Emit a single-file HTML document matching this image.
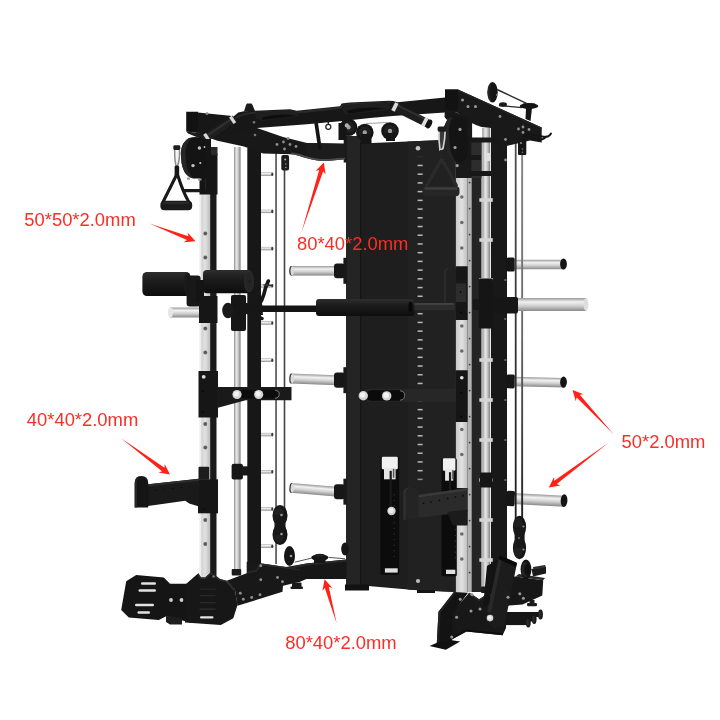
<!DOCTYPE html>
<html lang="en"><head><meta charset="utf-8"><title>Smith machine tube specification</title>
<style>
html,body{margin:0;padding:0;background:#fff}
body{width:720px;height:720px;overflow:hidden;position:relative;font-family:"Liberation Sans",sans-serif}
svg{position:absolute;left:0;top:0;display:block;filter:blur(0.55px)}
.lbl{font-family:"Liberation Sans",sans-serif;font-size:18.4px;fill:#fa2e25}
</style></head><body>
<svg width="720" height="720" viewBox="0 0 720 720">
<!-- defs -->
<g id="defs">
<defs>
<linearGradient id="chromeV" x1="0" x2="1" y1="0" y2="0">
 <stop offset="0" stop-color="#8f8f8f"/><stop offset=".35" stop-color="#e9e9e9"/><stop offset=".6" stop-color="#cfcfcf"/><stop offset="1" stop-color="#7d7d7d"/>
</linearGradient>
<linearGradient id="chromeH" x1="0" x2="0" y1="0" y2="1">
 <stop offset="0" stop-color="#9a9a9a"/><stop offset=".3" stop-color="#f2f2f2"/><stop offset=".6" stop-color="#d0d0d0"/><stop offset="1" stop-color="#8a8a8a"/>
</linearGradient>
<linearGradient id="silverRail" x1="0" x2="1" y1="0" y2="0">
 <stop offset="0" stop-color="#c9c9c9"/><stop offset=".5" stop-color="#e2e2e2"/><stop offset="1" stop-color="#bdbdbd"/>
</linearGradient>
<linearGradient id="padH" x1="0" x2="0" y1="0" y2="1">
 <stop offset="0" stop-color="#2e2e2e"/><stop offset=".35" stop-color="#1d1d1d"/><stop offset="1" stop-color="#0d0d0d"/>
</linearGradient>
<linearGradient id="cab1" x1="0" x2="0" y1="0" y2="1"><stop offset="0" stop-color="#505050"/><stop offset="1" stop-color="#1c1c1c"/></linearGradient>
<linearGradient id="cab2" x1="0" x2="0" y1="0" y2="1"><stop offset="0" stop-color="#858585"/><stop offset=".5" stop-color="#6a6a6a"/><stop offset="1" stop-color="#1c1c1c"/></linearGradient>
<filter id="soft" x="-5%" y="-5%" width="110%" height="110%"><feGaussianBlur stdDeviation="0.45"/></filter>
</defs>
</g>
<!-- back_right -->
<g id="back_right">
<rect x="491" y="128" width="16" height="462" fill="#181818" />
<rect x="513" y="259.75" width="51" height="9.5" fill="url(#chromeH)" />
<rect x="506.7" y="257.55" width="8" height="13.9" rx="1.5" fill="#161616" />
<ellipse cx="563.5" cy="264" rx="3.4" ry="5.55" fill="#141414" />
<g transform="rotate(1.3 512 381.5)">
<rect x="513" y="376.75" width="51" height="9.5" fill="url(#chromeH)" />
<rect x="506.7" y="374.55" width="8" height="13.9" rx="1.5" fill="#161616" />
<ellipse cx="563.5" cy="381" rx="3.4" ry="5.55" fill="#141414" />
</g>
<g transform="rotate(2.8 512 498.5)">
<rect x="512" y="493.1" width="52.6" height="11" fill="url(#chromeH)" />
<rect x="506.7" y="490.9" width="8" height="15.4" rx="1.5" fill="#161616" />
<ellipse cx="564.1" cy="498.1" rx="3.4" ry="6.3" fill="#141414" />
</g>
<rect x="514.8" y="141" width="1.8" height="381" fill="url(#cab1)" />
<rect x="521.2" y="150" width="1.9" height="372" fill="url(#cab2)" />
<circle cx="505.3" cy="280" r="1.1" fill="#6f6f6f" />
<circle cx="505.3" cy="319" r="1.1" fill="#6f6f6f" />
<circle cx="505.3" cy="360" r="1.1" fill="#6f6f6f" />
<circle cx="505.3" cy="400" r="1.1" fill="#6f6f6f" />
<circle cx="505.3" cy="440" r="1.1" fill="#6f6f6f" />
<circle cx="505.3" cy="480" r="1.1" fill="#6f6f6f" />
<polygon points="445,89.5 458,89.5 541.7,127.5 541.7,142.5 530,140.5 506.5,146 506.5,150 491,150 491,128 481.5,127 476,125 467.5,121 458,113 445,110" fill="#191919" />
<polygon points="458,89.5 541.7,127.5 541.7,129 458,91" fill="#242424" />
<ellipse cx="492.5" cy="92.3" rx="5.2" ry="10.3" fill="#141414" />
<ellipse cx="491.2" cy="92.3" rx="3.4" ry="8.6" fill="#262626" />
<ellipse cx="493.2" cy="92.3" rx="3.6" ry="8.8" fill="#141414" />
<circle cx="497" cy="95" r="1" fill="#8a8a8a" />
<line x1="497" y1="89.5" x2="526.5" y2="103.3" stroke="#2a2a2a" stroke-width="1.4" />
<line x1="499" y1="105.5" x2="522" y2="107.6" stroke="#2a2a2a" stroke-width="1.3" />
<ellipse cx="503" cy="104.5" rx="4" ry="2.2" fill="#1a1a1a" />
<ellipse cx="529" cy="106" rx="9.3" ry="3" fill="#141414" />
<rect x="523" y="103.5" width="12" height="2.5" fill="#141414" />
<polygon points="526,108 532,108 530.5,121 525.5,119" fill="#161616" />
<path d="M525,133.5 L545,137 Q549,137 551,133.6 M523,136 L540,139.5 Q544,139.7 546,136.5" fill="none" stroke="#141414" stroke-width="2" stroke-linecap="round"/>
<rect x="518" y="138" width="8.3" height="17" rx="1" fill="#161616" />
<circle cx="521" cy="143" r="1.1" fill="#8a8a8a" />
<circle cx="522.5" cy="149" r="0.8" fill="#777" />
<circle cx="522.5" cy="152.3" r="0.8" fill="#777" />
<circle cx="500" cy="116.5" r="1.4" fill="#8e8e8e" />
<circle cx="523" cy="127" r="1.4" fill="#8e8e8e" />
<circle cx="518.5" cy="129" r="1.4" fill="#8e8e8e" />
<circle cx="523" cy="132.5" r="1.4" fill="#8e8e8e" />
<circle cx="529" cy="129.5" r="1.4" fill="#8e8e8e" />
<circle cx="505.5" cy="139.5" r="1.4" fill="#8e8e8e" />
<circle cx="505.5" cy="160" r="1.4" fill="#8e8e8e" />
</g>
<!-- panel -->
<g id="panel">
<polygon points="360,143.5 455.5,139.5 455.5,592 420,590.5 368,586 360,586" fill="#1e1e1e" />
<polygon points="407.5,141.5 455.5,139.5 455.5,592 407.5,589.5" fill="#212121" />
<rect x="346" y="136" width="15" height="452" fill="#242424" />
<rect x="343.7" y="136.5" width="3" height="26" fill="#191919" />
<rect x="360.2" y="142" width="0.9" height="444" fill="#121212" />
<rect x="345" y="584.5" width="24" height="6" fill="#121212" />
<rect x="417" y="590" width="18" height="3" fill="#141414" />
<circle cx="418" cy="148.3" r="2.3" fill="#c4c4c4" />
<circle cx="418" cy="581" r="2.1" fill="#bdbdbd" />
<rect x="417.6" y="156" width="5" height="1.5" fill="#2a2a2a" />
<rect x="417.6" y="164.72" width="5" height="1.5" fill="#b9b9b9" />
<rect x="417.6" y="173.44" width="5" height="1.5" fill="#b9b9b9" />
<rect x="417.6" y="182.16" width="5" height="1.5" fill="#b9b9b9" />
<rect x="417.6" y="190.88" width="5" height="1.5" fill="#b9b9b9" />
<rect x="417.6" y="199.6" width="5" height="1.5" fill="#b9b9b9" />
<rect x="417.6" y="208.32" width="5" height="1.5" fill="#b9b9b9" />
<rect x="417.6" y="217.04" width="5" height="1.5" fill="#b9b9b9" />
<rect x="417.6" y="225.76" width="5" height="1.5" fill="#b9b9b9" />
<rect x="417.6" y="234.48" width="5" height="1.5" fill="#b9b9b9" />
<rect x="417.6" y="243.2" width="5" height="1.5" fill="#b9b9b9" />
<rect x="417.6" y="251.92" width="5" height="1.5" fill="#b9b9b9" />
<rect x="417.6" y="260.64" width="5" height="1.5" fill="#b9b9b9" />
<rect x="417.6" y="269.36" width="5" height="1.5" fill="#b9b9b9" />
<rect x="417.6" y="278.08" width="5" height="1.5" fill="#b9b9b9" />
<rect x="417.6" y="286.8" width="5" height="1.5" fill="#b9b9b9" />
<rect x="417.6" y="295.52" width="5" height="1.5" fill="#b9b9b9" />
<rect x="417.6" y="304.24" width="5" height="1.5" fill="#b9b9b9" />
<rect x="417.6" y="312.96" width="5" height="1.5" fill="#b9b9b9" />
<rect x="417.6" y="321.68" width="5" height="1.5" fill="#b9b9b9" />
<rect x="417.6" y="330.4" width="5" height="1.5" fill="#b9b9b9" />
<rect x="417.6" y="339.12" width="5" height="1.5" fill="#b9b9b9" />
<rect x="417.6" y="347.84" width="5" height="1.5" fill="#b9b9b9" />
<rect x="417.6" y="356.56" width="5" height="1.5" fill="#b9b9b9" />
<rect x="417.6" y="365.28" width="5" height="1.5" fill="#b9b9b9" />
<rect x="417.6" y="374" width="5" height="1.5" fill="#b9b9b9" />
<rect x="417.6" y="382.72" width="5" height="1.5" fill="#b9b9b9" />
<rect x="417.6" y="391.44" width="5" height="1.5" fill="#b9b9b9" />
<rect x="417.6" y="400.16" width="5" height="1.5" fill="#b9b9b9" />
<rect x="417.6" y="408.88" width="5" height="1.5" fill="#b9b9b9" />
<rect x="417.6" y="417.6" width="5" height="1.5" fill="#b9b9b9" />
<rect x="417.6" y="426.32" width="5" height="1.5" fill="#b9b9b9" />
<rect x="417.6" y="435.04" width="5" height="1.5" fill="#b9b9b9" />
<rect x="417.6" y="443.76" width="5" height="1.5" fill="#b9b9b9" />
<rect x="417.6" y="452.48" width="5" height="1.5" fill="#b9b9b9" />
<rect x="417.6" y="461.2" width="5" height="1.5" fill="#b9b9b9" />
<rect x="417.6" y="469.92" width="5" height="1.5" fill="#b9b9b9" />
<rect x="417.6" y="478.64" width="5" height="1.5" fill="#8a8a8a" />
</g>
<!-- mid_left -->
<g id="mid_left">
<rect x="275.2" y="150" width="1.7" height="414" fill="#585858" />
<rect x="283.7" y="168" width="1.6" height="345" fill="#444" />
<rect x="281.3" y="155" width="7.8" height="15.4" rx="2" fill="#1a1a1a" />
<circle cx="285.2" cy="159.5" r="1" fill="#aaa" />
<circle cx="285.8" cy="164" r="0.8" fill="#999" />
<circle cx="285.8" cy="167.5" r="0.8" fill="#999" />
<g transform="rotate(0 336 270.8)">
<rect x="291" y="266" width="45" height="9.6" fill="url(#chromeH)" />
<ellipse cx="291.2" cy="270.8" rx="2" ry="4.8" fill="#3a3a3a" />
<ellipse cx="292.2" cy="270.8" rx="1.7" ry="4.4" fill="#dcdcdc" />
</g>
<rect x="334" y="263.4" width="11" height="14.8" rx="3" fill="#171717" />
<rect x="343.4" y="257.8" width="3.6" height="26" fill="#191919" />
<g transform="rotate(2.2 336 380.2)">
<rect x="291" y="375.2" width="45" height="10" fill="url(#chromeH)" />
<ellipse cx="291.2" cy="380.2" rx="2" ry="5" fill="#3a3a3a" />
<ellipse cx="292.2" cy="380.2" rx="1.7" ry="4.6" fill="#dcdcdc" />
</g>
<rect x="334" y="372.6" width="11" height="15.2" rx="3" fill="#171717" />
<rect x="343.4" y="367.2" width="3.6" height="26" fill="#191919" />
<g transform="rotate(4.9 336 491.7)">
<rect x="291" y="486.8" width="45" height="9.8" fill="url(#chromeH)" />
<ellipse cx="291.2" cy="491.7" rx="2" ry="4.9" fill="#3a3a3a" />
<ellipse cx="292.2" cy="491.7" rx="1.7" ry="4.5" fill="#dcdcdc" />
</g>
<rect x="334" y="484.2" width="11" height="15" rx="3" fill="#171717" />
<rect x="343.4" y="478.7" width="3.6" height="26" fill="#191919" />
<ellipse cx="345" cy="549" rx="3.8" ry="6.5" fill="#151515" />
<rect x="260" y="172.5" width="12.5" height="3.4" fill="url(#chromeH)" />
<ellipse cx="272.3" cy="174.2" rx="1.1" ry="1.8" fill="#3a3a3a" />
<rect x="260" y="209.7" width="12.5" height="3.4" fill="url(#chromeH)" />
<ellipse cx="272.3" cy="211.4" rx="1.1" ry="1.8" fill="#3a3a3a" />
<rect x="260" y="246.9" width="12.5" height="3.4" fill="url(#chromeH)" />
<ellipse cx="272.3" cy="248.6" rx="1.1" ry="1.8" fill="#3a3a3a" />
<rect x="260" y="284.1" width="12.5" height="3.4" fill="url(#chromeH)" />
<ellipse cx="272.3" cy="285.8" rx="1.1" ry="1.8" fill="#3a3a3a" />
<rect x="260" y="321.3" width="12.5" height="3.4" fill="url(#chromeH)" />
<ellipse cx="272.3" cy="323" rx="1.1" ry="1.8" fill="#3a3a3a" />
<rect x="260" y="358.5" width="12.5" height="3.4" fill="url(#chromeH)" />
<ellipse cx="272.3" cy="360.2" rx="1.1" ry="1.8" fill="#3a3a3a" />
<rect x="260" y="395.7" width="12.5" height="3.4" fill="url(#chromeH)" />
<ellipse cx="272.3" cy="397.4" rx="1.1" ry="1.8" fill="#3a3a3a" />
<rect x="260" y="432.9" width="12.5" height="3.4" fill="url(#chromeH)" />
<ellipse cx="272.3" cy="434.6" rx="1.1" ry="1.8" fill="#3a3a3a" />
<rect x="260" y="470.1" width="12.5" height="3.4" fill="url(#chromeH)" />
<ellipse cx="272.3" cy="471.8" rx="1.1" ry="1.8" fill="#3a3a3a" />
<rect x="260" y="507.3" width="12.5" height="3.4" fill="url(#chromeH)" />
<ellipse cx="272.3" cy="509" rx="1.1" ry="1.8" fill="#3a3a3a" />
<rect x="260" y="544.5" width="12.5" height="3.4" fill="url(#chromeH)" />
<ellipse cx="272.3" cy="546.2" rx="1.1" ry="1.8" fill="#3a3a3a" />
<rect x="247.3" y="148" width="13.7" height="428" fill="#171717" />
<rect x="234" y="147" width="6.6" height="423" fill="url(#chromeV)" />
<rect x="231.7" y="569" width="9.5" height="6.5" rx="1" fill="#1c1c1c" />
<rect x="258" y="305.5" width="60" height="6.5" fill="#141414" />
<rect x="412.5" y="303.4" width="43" height="6.8" fill="#2c2c2c" />
<rect x="412.5" y="303.4" width="41" height="1.1" fill="#555" />
<rect x="316" y="299" width="98.5" height="17" rx="3" fill="url(#padH)" />
<ellipse cx="410.5" cy="307" rx="2.1" ry="5.2" fill="#080808" />
<path d="M245,309.5 L257,306.5 Q262.5,302 265.5,288 L268.3,281" fill="none" stroke="#171717" stroke-width="3.6" stroke-linecap="round" stroke-linejoin="round"/>
<path d="M247,312.5 L262,318.5" fill="none" stroke="#171717" stroke-width="3.4" stroke-linecap="round"/>
<path d="M264,285 L272,285.5" fill="none" stroke="#333" stroke-width="1.6" stroke-linecap="round"/>
<polygon points="252,303 262,303 263,315 252,315" fill="#171717" />
<rect x="231" y="295" width="15" height="36" rx="2" fill="#161616" />
<ellipse cx="228" cy="310.5" rx="5.8" ry="7.8" fill="#1a1a1a" />
<rect x="240" y="303" width="20" height="10" fill="#161616" />
<rect x="231.6" y="463.8" width="11.3" height="15.6" rx="2" fill="#161616" />
<rect x="241" y="466.3" width="8" height="9.2" fill="#191919" />
<ellipse cx="280" cy="515.5" rx="7.5" ry="10.5" fill="#151515" />
<ellipse cx="280" cy="534.5" rx="7.5" ry="10.5" fill="#151515" />
<ellipse cx="279" cy="515.5" rx="5.3" ry="8.6" fill="#1f1f1f" />
<ellipse cx="279" cy="534.5" rx="5.3" ry="8.6" fill="#1f1f1f" />
<rect x="274.5" y="515" width="11" height="20" fill="#181818" />
<circle cx="281.5" cy="515" r="1.3" fill="#9a9a9a" />
<circle cx="281.5" cy="534" r="1.3" fill="#9a9a9a" />
<ellipse cx="289.5" cy="556" rx="5.5" ry="10" fill="#151515" />
<circle cx="291" cy="556" r="1.3" fill="#9a9a9a" />
</g>
<!-- top -->
<g id="top">
<circle cx="348.5" cy="127.2" r="8.8" fill="#151515" />
<circle cx="348.5" cy="127.2" r="6.2" fill="#1e1e1e" />
<circle cx="348.5" cy="127.2" r="2.2" fill="#9d9d9d" />
<circle cx="364.8" cy="132.5" r="8.8" fill="#151515" />
<circle cx="364.8" cy="132.5" r="6.2" fill="#1e1e1e" />
<circle cx="364.8" cy="132.5" r="2.2" fill="#9d9d9d" />
<circle cx="390" cy="131" r="8.8" fill="#151515" />
<circle cx="390" cy="131" r="6.2" fill="#1e1e1e" />
<circle cx="390" cy="131" r="2.2" fill="#9d9d9d" />
<rect x="338.5" y="123" width="8" height="17" fill="#151515" />
<circle cx="346.8" cy="125.4" r="2.1" fill="#b0b0b0" />
<rect x="361" y="134" width="10.5" height="10" fill="#151515" />
<rect x="386" y="133" width="9" height="8" fill="#151515" />
<line x1="366" y1="123.5" x2="388" y2="122.5" stroke="#8a8a8a" stroke-width="0.8" />
<path d="M204,136 L217.5,140.8 L244,146.4 L263,153.5 L291,154.2 C298,155 302,157 307,158.3 C314,160 318,161 323.5,161 C332,161 338,160 345,159.3 L345,143.8 L307,143 L283,137 L257,128 L257,118 L216,118 Z" fill="#181818" />
<path d="M291,154.2 C298,155 302,157 307,158.3 C314,160 318,161 323.5,161 C332,161 338,160 345,159.3 L345,157.3 C338,158 332,159 323.5,159 C318,159 314,158 307,156.3 C302,155 298,153.2 291,152.6 Z" fill="#4a4a4a" />
<polygon points="307,143 345,143.8 345,157.5 323.5,159 307,156.3" fill="#1c1c1c" />
<circle cx="277" cy="144.5" r="1.4" fill="#8c8c8c" />
<circle cx="283.5" cy="142" r="1.4" fill="#8c8c8c" />
<circle cx="290" cy="144.5" r="1.4" fill="#8c8c8c" />
<circle cx="296" cy="146.5" r="1.4" fill="#8c8c8c" />
<circle cx="284.5" cy="149" r="1.4" fill="#8c8c8c" />
<circle cx="288" cy="138.5" r="1.4" fill="#8c8c8c" />
<circle cx="255" cy="135" r="1.3" fill="#777" />
<polygon points="314.3,123 318,123 322,150 318.3,150" fill="#141414" />
<circle cx="328.3" cy="126.8" r="2.5" fill="none" stroke="#262626" stroke-width="1.3"/>
<rect x="327.6" y="120" width="1.4" height="4.5" fill="#222" />
<polygon points="186.2,111.7 198,111.7 198,133 186.2,131.5" fill="#121212" />
<polygon points="186.2,131.5 198,133 216,137 204,140 188,133.5" fill="#1c1c1c" />
<polygon points="198,112.4 230,115.8 233.3,116.7 238.3,112.5 244,111.3 255,110.8 290,109.2 296.7,110.7 340,106.3 341.7,103.6 350,102.5 389,100.7 393,101 397.5,102.2 445,97.5 445,112.5 392.5,116 370,118 342.5,121 307,124.3 257,128 230,134 204,137 198,133" fill="#171717" />
<path d="M244,111.5 L246,105 L247,103.5 L251.5,103.5 L252.5,105 L255,111 Z" fill="#1a1a1a" />
<path d="M236,118 C240,114.5 246,113.2 255,112.6 L290,111 L297,112.5 L340,108 L343,105.3 L350,104.2 L390,102.3" fill="none" stroke="#2b2b2b" stroke-width="1.8" stroke-linecap="round" stroke-linejoin="round"/>
<path d="M256,112 L290,110.3 Q300,112 298,116.5 L262,121 Q253,119 256,112 Z" fill="#1f1f1f" />
<path d="M343,105 L387,102 Q392,105 388,110 L347,114.5 Q340,111 343,105 Z" fill="#1f1f1f" />
<path d="M262,117.5 Q280,112.5 296,116 L262,120 Z" fill="#0e0e0e" />
<path d="M347,110.5 Q366,105.5 386,108.5 L348,113.5 Z" fill="#0e0e0e" />
<line x1="203.5" y1="139.3" x2="234.5" y2="118.6" stroke="#1f1f1f" stroke-width="7.4" />
<line x1="205.2" y1="136.8" x2="233.5" y2="117.9" stroke="#343434" stroke-width="1.6" />
<line x1="205.3" y1="138.1" x2="208.2" y2="136.2" stroke="#dadada" stroke-width="7.8" />
<line x1="231.3" y1="120.8" x2="234" y2="119" stroke="#dadada" stroke-width="7.8" />
<line x1="392" y1="105.5" x2="428" y2="123.5" stroke="#1e1e1e" stroke-width="8.4" />
<line x1="394" y1="103.6" x2="428" y2="120.6" stroke="#353535" stroke-width="1.6" />
<line x1="393.2" y1="106.1" x2="396.6" y2="107.8" stroke="#dcdcdc" stroke-width="8.8" />
<line x1="423.2" y1="121.1" x2="426.5" y2="122.8" stroke="#dcdcdc" stroke-width="8.8" />
<ellipse cx="429" cy="124" rx="2.7" ry="4.7" fill="#121212" transform="rotate(27 429 124)"/>
<polygon points="445,89.5 458,89.5 458,111 445,110" fill="#121212" />
<circle cx="462.5" cy="100" r="1.5" fill="#9a9a9a" />
<circle cx="468" cy="106.5" r="1.5" fill="#9a9a9a" />
<circle cx="475.5" cy="106.5" r="1.5" fill="#9a9a9a" />
<circle cx="470.5" cy="120" r="1.5" fill="#9a9a9a" />
<circle cx="207" cy="113.7" r="1.4" fill="#8a8a8a" />
<circle cx="254" cy="122.3" r="1.3" fill="#777" />
</g>
<!-- right_front -->
<g id="right_front">
<rect x="455.5" y="118" width="16.6" height="474" fill="#191919" />
<rect x="471.5" y="138" width="10" height="454" fill="#242424" />
<rect x="471.5" y="138" width="10" height="40" fill="#2d2d2d" />
<rect x="482.3" y="128" width="7.9" height="460" fill="url(#chromeV)" />
<rect x="479.3" y="198.2" width="13.5" height="3.6" fill="#d5d5d5" />
<rect x="479.3" y="238.2" width="13.5" height="3.6" fill="#d5d5d5" />
<rect x="479.3" y="278.2" width="13.5" height="3.6" fill="#d5d5d5" />
<rect x="479.3" y="318.2" width="13.5" height="3.6" fill="#d5d5d5" />
<rect x="479.3" y="358.2" width="13.5" height="3.6" fill="#d5d5d5" />
<rect x="479.3" y="398.2" width="13.5" height="3.6" fill="#d5d5d5" />
<rect x="479.3" y="438.2" width="13.5" height="3.6" fill="#d5d5d5" />
<rect x="479.3" y="478.2" width="13.5" height="3.6" fill="#d5d5d5" />
<rect x="479.3" y="518.2" width="13.5" height="3.6" fill="#d5d5d5" />
<rect x="479.3" y="558.2" width="13.5" height="3.6" fill="#d5d5d5" />
<rect x="478.8" y="278.5" width="14.2" height="50" rx="2" fill="#151515" />
<rect x="473" y="299" width="7" height="11" rx="2" fill="#181818" />
<rect x="480" y="472.5" width="12.5" height="15" rx="1.5" fill="#151515" />
<rect x="515.5" y="298" width="71" height="13" fill="url(#chromeH)" />
<ellipse cx="586" cy="304.5" rx="2.4" ry="6.5" fill="#dedede" />
<rect x="493" y="297" width="25" height="16.5" rx="2" fill="#161616" />
<rect x="467.5" y="178" width="4.2" height="414" fill="#b2b2b2" />
<circle cx="469.6" cy="182.6" r="0.9" fill="#3a3a3a" />
<circle cx="469.6" cy="208.6" r="0.9" fill="#3a3a3a" />
<circle cx="469.6" cy="234.6" r="0.9" fill="#3a3a3a" />
<circle cx="469.6" cy="260.6" r="0.9" fill="#3a3a3a" />
<circle cx="469.6" cy="286.6" r="0.9" fill="#3a3a3a" />
<circle cx="469.6" cy="312.6" r="0.9" fill="#3a3a3a" />
<circle cx="469.6" cy="338.6" r="0.9" fill="#3a3a3a" />
<circle cx="469.6" cy="364.6" r="0.9" fill="#3a3a3a" />
<circle cx="469.6" cy="390.6" r="0.9" fill="#3a3a3a" />
<circle cx="469.6" cy="416.6" r="0.9" fill="#3a3a3a" />
<circle cx="469.6" cy="442.6" r="0.9" fill="#3a3a3a" />
<circle cx="469.6" cy="468.6" r="0.9" fill="#3a3a3a" />
<circle cx="469.6" cy="494.6" r="0.9" fill="#3a3a3a" />
<circle cx="469.6" cy="520.6" r="0.9" fill="#3a3a3a" />
<circle cx="469.6" cy="546.6" r="0.9" fill="#3a3a3a" />
<circle cx="469.6" cy="572.6" r="0.9" fill="#3a3a3a" />
<rect x="456" y="178" width="11.5" height="88.5" fill="url(#silverRail)" />
<rect x="456" y="320" width="11.5" height="50.5" fill="url(#silverRail)" />
<rect x="456" y="422" width="11.5" height="66" fill="url(#silverRail)" />
<rect x="456" y="524" width="11.5" height="68" fill="url(#silverRail)" />
<circle cx="461.8" cy="197" r="1.8" fill="#6b6b6b" />
<circle cx="461.8" cy="222.5" r="1.8" fill="#6b6b6b" />
<circle cx="461.8" cy="248" r="1.8" fill="#6b6b6b" />
<circle cx="461.8" cy="326" r="1.8" fill="#6b6b6b" />
<circle cx="461.8" cy="351" r="1.8" fill="#6b6b6b" />
<circle cx="461.8" cy="429.5" r="1.8" fill="#6b6b6b" />
<circle cx="461.8" cy="454.5" r="1.8" fill="#6b6b6b" />
<circle cx="461.8" cy="534" r="1.8" fill="#6b6b6b" />
<circle cx="461.8" cy="559" r="1.8" fill="#6b6b6b" />
<rect x="455.5" y="266.5" width="12" height="53.5" fill="#161616" />
<rect x="455.5" y="370.5" width="12" height="51.5" fill="#161616" />
<circle cx="461.8" cy="377.8" r="1.8" fill="#e5e5e5" />
<circle cx="461.3" cy="393" r="1" fill="#050505" />
<circle cx="461.3" cy="416.4" r="1" fill="#050505" />
<path d="M443.7,302.5 L443.7,273 Q444,268 449,268 L452,268 Q456,268.5 456,273 L456,302.5 Z" fill="#202020" />
<path d="M443.7,302.5 L443.7,273 Q444,268 449,268 L451,268 Q446.5,268.5 446,273 L446,302.5 Z" fill="#2a2a2a" />
<rect x="456" y="280" width="10.3" height="22" fill="#2d2d2d" />
<rect x="456" y="280" width="10.3" height="3.5" fill="#1a1a1a" />
<circle cx="460.6" cy="292" r="0.9" fill="#0a0a0a" />
<circle cx="460.8" cy="312.6" r="1" fill="#060606" />
<polygon points="427.5,401.8 456,401.8 456,422" fill="#212121" />
<rect x="367" y="388.8" width="89" height="13" fill="#272727" />
<rect x="366" y="390.3" width="39" height="10.4" rx="5.2" fill="#0b0b0b" />
<path d="M400,390.8 Q404.6,391 404.6,395.5 Q404.6,400 400,400.2" fill="none" stroke="#8a8a8a" stroke-width="0.8"/>
<circle cx="363.3" cy="395.7" r="4.7" fill="#d2d2d2" />
<circle cx="386.7" cy="395.9" r="4.7" fill="#d2d2d2" />
<circle cx="362.7" cy="395" r="2.8" fill="#f2f2f2" />
<circle cx="386.1" cy="395.2" r="2.8" fill="#f2f2f2" />
<rect x="380.4" y="456.8" width="18.8" height="118" rx="1.5" fill="#0c0c0c" />
<rect x="381.8" y="456.8" width="16" height="12.5" rx="1.2" fill="#f1f1f1" />
<rect x="384" y="467.8" width="11.6" height="11.5" fill="#e6e6e6" />
<rect x="389.6" y="470.8" width="2.2" height="40" fill="#1a1a1a" />
<rect x="392.8" y="468.8" width="1.6" height="9" fill="#555" />
<rect x="384.9" y="568.3" width="12.8" height="4.3" fill="#e0e0e0" />
<circle cx="394.2" cy="494.8" r="0.7" fill="#2f2f2f" />
<circle cx="394.2" cy="500.4" r="0.7" fill="#2f2f2f" />
<circle cx="394.2" cy="506" r="0.7" fill="#2f2f2f" />
<circle cx="394.2" cy="511.6" r="0.7" fill="#2f2f2f" />
<circle cx="394.2" cy="517.2" r="0.7" fill="#2f2f2f" />
<circle cx="394.2" cy="522.8" r="0.7" fill="#2f2f2f" />
<circle cx="394.2" cy="528.4" r="0.7" fill="#2f2f2f" />
<circle cx="394.2" cy="534" r="0.7" fill="#2f2f2f" />
<circle cx="394.2" cy="539.6" r="0.7" fill="#2f2f2f" />
<circle cx="394.2" cy="545.2" r="0.7" fill="#2f2f2f" />
<circle cx="394.2" cy="550.8" r="0.7" fill="#2f2f2f" />
<circle cx="394.2" cy="556.4" r="0.7" fill="#2f2f2f" />
<rect x="441.5" y="458.2" width="15.3" height="118" rx="1.5" fill="#0c0c0c" />
<rect x="442.9" y="458.2" width="12.5" height="12.5" rx="1.2" fill="#f1f1f1" />
<rect x="445.1" y="469.2" width="8.1" height="11.5" fill="#e6e6e6" />
<rect x="448.95" y="472.2" width="2.2" height="40" fill="#1a1a1a" />
<rect x="452.15" y="470.2" width="1.6" height="9" fill="#555" />
<rect x="446" y="569.7" width="9.3" height="4.3" fill="#e0e0e0" />
<circle cx="455.3" cy="496.2" r="0.7" fill="#2f2f2f" />
<circle cx="455.3" cy="501.8" r="0.7" fill="#2f2f2f" />
<circle cx="455.3" cy="507.4" r="0.7" fill="#2f2f2f" />
<circle cx="455.3" cy="513" r="0.7" fill="#2f2f2f" />
<circle cx="455.3" cy="518.6" r="0.7" fill="#2f2f2f" />
<circle cx="455.3" cy="524.2" r="0.7" fill="#2f2f2f" />
<circle cx="455.3" cy="529.8" r="0.7" fill="#2f2f2f" />
<circle cx="455.3" cy="535.4" r="0.7" fill="#2f2f2f" />
<circle cx="455.3" cy="541" r="0.7" fill="#2f2f2f" />
<circle cx="455.3" cy="546.6" r="0.7" fill="#2f2f2f" />
<circle cx="455.3" cy="552.2" r="0.7" fill="#2f2f2f" />
<circle cx="455.3" cy="557.8" r="0.7" fill="#2f2f2f" />
<circle cx="391.5" cy="511" r="4.2" fill="#cfcfcf" />
<circle cx="391" cy="510.4" r="2.6" fill="#ededed" />
<polygon points="418,495 467.5,488 467.5,511.7 418,518" fill="#2b2b2b" />
<polygon points="418,495 467.5,488 467.5,490.5 418,497.5" fill="#3a3a3a" />
<polygon points="447,512 467.5,509.5 467.5,525.5 453,525.5" fill="#1b1b1b" />
<path d="M403.3,520 L403.3,492.5 Q403.8,487.6 409,487.4 L415,487.8 Q418.6,489 418.6,493 L418.6,518 Z" fill="#242424" />
<path d="M403.3,520 L403.3,492.5 Q403.8,487.6 409,487.4 L411,487.5 Q406,488 405.6,493 L405.6,519.7 Z" fill="#303030" />
<circle cx="423.5" cy="503.3" r="0.85" fill="#070707" />
<circle cx="431" cy="502" r="0.85" fill="#070707" />
<circle cx="439.4" cy="500.3" r="0.85" fill="#070707" />
<circle cx="447.8" cy="498.5" r="0.85" fill="#070707" />
<circle cx="455.4" cy="497" r="0.85" fill="#070707" />
<circle cx="463" cy="495.7" r="0.85" fill="#070707" />
<polygon points="445,108 470,118 470,128 452,118 447,120 444.5,117" fill="#171717" />
<path d="M450,117.5 Q460,113.5 466.5,121 L468.5,150 Q467.5,162.5 457,162.5 Q447.5,160 445.5,148 L443.5,130 Q445,121 450,117.5 Z" fill="#141414" />
<path d="M450,117.5 Q445,121 443.5,130 L445.5,148 Q447.5,160 457,162.5 Q451.5,158 450,147 L448.6,130 Q449.5,122 453,117 Z" fill="#252525" />
<circle cx="460" cy="129.4" r="1.6" fill="#a0a0a0" />
<circle cx="455" cy="147.5" r="1.6" fill="#a0a0a0" />
<circle cx="457.2" cy="165.6" r="1.6" fill="#a0a0a0" />
<path d="M468,140 L493,140 Q499.5,140 499.5,147 L499.5,166 Q499.5,173.5 493,173.5 L468,173.5" fill="none" stroke="#181818" stroke-width="5" stroke-linejoin="round"/>
<rect x="468" y="155" width="13" height="5" fill="#181818" />
<rect x="486.5" y="153" width="4.5" height="8" fill="#e0e0e0" />
<path d="M439,131 L445.3,129 Q445,140 443,148.5 L440,150.3 Q438.6,140 439,131 Z" fill="#3a3a3a" stroke="#d2d2d2" stroke-width="1.7" stroke-linejoin="round"/>
<rect x="437.6" y="126.5" width="9" height="5.2" rx="1.6" fill="#1b1b1b" />
<rect x="439.5" y="150" width="4" height="10.5" rx="1.2" fill="#222" />
<path d="M441.3,160 L425.5,187.5 M441.8,160 Q450,172 456.3,185.5" fill="none" stroke="#2b2b2b" stroke-width="3.2" stroke-linecap="round"/>
<rect x="422.5" y="186.2" width="37" height="10" rx="3.6" fill="#262626" />
<rect x="424.5" y="187.3" width="33" height="2.4" rx="1.2" fill="#3d3d3d" />
</g>
<!-- left_front -->
<g id="left_front">
<rect x="210" y="190" width="6.5" height="388" fill="#1b1b1b" />
<rect x="199.8" y="190" width="10.4" height="388" fill="url(#silverRail)" />
<rect x="199.8" y="190" width="1.6" height="388" fill="#ededed" />
<circle cx="205.3" cy="233.5" r="1.9" fill="#5e5e5e" />
<circle cx="205.3" cy="257.5" r="1.9" fill="#5e5e5e" />
<circle cx="205.3" cy="328.5" r="1.9" fill="#5e5e5e" />
<circle cx="205.3" cy="352.5" r="1.9" fill="#5e5e5e" />
<circle cx="205.3" cy="424" r="1.9" fill="#5e5e5e" />
<circle cx="205.3" cy="447.5" r="1.9" fill="#5e5e5e" />
<circle cx="205.3" cy="520" r="1.9" fill="#5e5e5e" />
<circle cx="205.3" cy="544" r="1.9" fill="#5e5e5e" />
<rect x="199.5" y="153.5" width="18" height="41" fill="#151515" />
<rect x="210" y="147" width="7.5" height="8" fill="#2a2a2a" />
<rect x="205" y="160" width="1" height="30" fill="#232323" />
<rect x="203" y="139" width="8" height="16" fill="#161616" />
<path d="M189,138 Q197,135.5 204,139 L206,150 L206,178.5 L194,178.5 Q184,177 181.6,163 L180.8,153 Q181.5,142 189,138 Z" fill="#141414" />
<path d="M189,138 Q181.5,142 180.8,153 L181.6,163 Q184,177 194,178.5 Q187.5,174 186,162 L185.5,152 Q186,143 191.5,138.5 Z" fill="#262626" />
<circle cx="199.4" cy="148" r="1.7" fill="#c4c4c4" />
<circle cx="193" cy="165.6" r="1.7" fill="#c4c4c4" />
<circle cx="200.3" cy="163" r="1.1" fill="#c4c4c4" />
<circle cx="204.5" cy="147" r="0.9" fill="#c4c4c4" />
<rect x="187" y="177.5" width="3" height="2.2" fill="#9a9a9a" />
<rect x="198" y="178.5" width="3.5" height="2" fill="#9a9a9a" />
<path d="M174.6,149 L179.3,148 Q180.4,157 177.6,166 L176,166.3 Q174.3,158 174.6,149 Z" fill="#f4f4f4" stroke="#8c8c8c" stroke-width="1.5" stroke-linejoin="round"/>
<rect x="173.3" y="145.3" width="7" height="4.6" rx="1.4" fill="#1d1d1d" />
<rect x="174.6" y="165.5" width="4.6" height="11" rx="1.5" fill="#181818" />
<path d="M176,176 L163,202 M178,176 Q183,192 188.6,201.5 M183.5,190.6 L200,190.6" fill="none" stroke="#191919" stroke-width="3.1" stroke-linecap="round"/>
<rect x="160.4" y="200.8" width="31.8" height="9.4" rx="4" fill="#1a1a1a" />
<rect x="163" y="202.2" width="26" height="1.6" rx="0.8" fill="#2f2f2f" />
<rect x="142.4" y="272" width="48" height="24" rx="4.5" fill="url(#padH)" />
<ellipse cx="187.5" cy="284" rx="3.6" ry="11.6" fill="#1b1b1b" />
<rect x="203" y="270" width="49" height="23.3" rx="4" fill="url(#padH)" />
<ellipse cx="249" cy="281.6" rx="5" ry="11" fill="#2a2a2a" />
<ellipse cx="249" cy="281.6" rx="3.6" ry="9" fill="#252525" />
<circle cx="249.3" cy="281.6" r="0.8" fill="#151515" />
<rect x="186.6" y="275.4" width="14" height="31" rx="3" fill="#181818" />
<rect x="196" y="280" width="8" height="22" fill="#141414" />
<rect x="170" y="307.5" width="30" height="10" fill="url(#chromeH)" />
<ellipse cx="170.5" cy="312.5" rx="2.5" ry="5" fill="#e6e6e6" />
<rect x="199" y="296" width="18.5" height="27" fill="#161616" />
<rect x="198.5" y="371" width="19.5" height="46.5" fill="#161616" />
<polygon points="217,387 291.5,387 291.5,400.3 245.7,400.3 217,408" fill="#1a1a1a" />
<rect x="239" y="389.8" width="40.5" height="8.7" rx="4.3" fill="#0b0b0b" />
<path d="M275,390.2 Q279.2,390.4 279.2,394.2 Q279.2,398 275,398.2" fill="none" stroke="#9a9a9a" stroke-width="0.8"/>
<circle cx="203.7" cy="376.8" r="1.9" fill="#dcdcdc" />
<circle cx="237" cy="394.5" r="4.6" fill="#d4d4d4" />
<circle cx="236.4" cy="393.8" r="2.6" fill="#f3f3f3" />
<circle cx="258.7" cy="394.5" r="4.6" fill="#d4d4d4" />
<circle cx="258.1" cy="393.8" r="2.6" fill="#f3f3f3" />
<circle cx="203" cy="391" r="0.9" fill="#050505" />
<circle cx="203" cy="412" r="0.9" fill="#050505" />
<rect x="198" y="479.3" width="20" height="34" fill="#161616" />
<rect x="198.5" y="466.7" width="10.7" height="13" rx="1" fill="#1c1c1c" />
<polygon points="148,484.2 199,478.7 199,506.6 189.2,503.6 185.3,500.7 148,506" fill="#1a1a1a" />
<polygon points="148,484.2 199,478.7 199,481 148,486.6" fill="#2b2b2b" />
<circle cx="156" cy="490.3" r="0.6" fill="#050505" />
<circle cx="164.5" cy="489.38" r="0.6" fill="#050505" />
<circle cx="173" cy="488.46" r="0.6" fill="#050505" />
<circle cx="181.5" cy="487.54" r="0.6" fill="#050505" />
<circle cx="190" cy="486.62" r="0.6" fill="#050505" />
<path d="M134.7,507.5 L134.7,483 Q134.9,476 141.3,476 Q148,476 148.2,483 L148.2,507.5 Z" fill="#151515" />
<path d="M134.7,507.5 L134.7,483 Q134.9,476 141.3,476 Q137.2,476.8 137,483 L137,507.5 Z" fill="#262626" />
<circle cx="204" cy="509" r="0.8" fill="#050505" />
</g>
<!-- base -->
<g id="base">
<polygon points="283,567.5 306.4,563.6 346.5,559.5 346.5,579 306.4,578.9 300,581.7 283,585.8" fill="#171717" />
<polygon points="285.5,567.8 306.4,563.6 346.5,559.5 346.5,561.5 307.8,565.3 286,569.6" fill="#2a2a2a" />
<rect x="292" y="582.5" width="9.5" height="5" rx="1" fill="#1a1a1a" />
<rect x="290.5" y="586.5" width="12.5" height="2.6" rx="1" fill="#1a1a1a" />
<ellipse cx="319.8" cy="557.6" rx="8.6" ry="3.3" fill="#141414" />
<ellipse cx="319.8" cy="555.6" rx="5" ry="1.9" fill="#1f1f1f" />
<rect x="314" y="557.5" width="11.5" height="5.5" fill="#161616" />
<path d="M294.6,562.2 L312,558 M328.6,557.4 L345,558.8" fill="none" stroke="#555" stroke-width="1"/>
<polygon points="246.7,561.7 260,563.3 300,569 300,581.7 283.3,581.7 282.5,591.7 237.5,605.8 235,590 226.7,580.8 246.7,573.3" fill="#181818" />
<polygon points="247,571.5 256,570 260,563.3 300,569 300,570.6 261,565.2 257,571.6 247,573.5" fill="#292929" />
<circle cx="260.8" cy="565.8" r="1.45" fill="#8d8d8d" />
<circle cx="260.8" cy="579.7" r="1.45" fill="#8d8d8d" />
<circle cx="277.5" cy="577.5" r="1.45" fill="#8d8d8d" />
<circle cx="282.5" cy="581.7" r="1.45" fill="#8d8d8d" />
<circle cx="240.3" cy="593.3" r="1.45" fill="#8d8d8d" />
<circle cx="243.3" cy="599.2" r="1.45" fill="#8d8d8d" />
<circle cx="251.7" cy="597.5" r="1.45" fill="#8d8d8d" />
<circle cx="260" cy="594.7" r="1.45" fill="#8d8d8d" />
<polygon points="121.2,610 126.2,581.2 136.2,575 163.8,577.5 170,583.8 191,583.8 191,622.8 166.2,616.2 158.8,620 128.8,617.5" fill="#151515" />
<polygon points="166,616 182,618 182,624.5 170,624.5 166,622" fill="#1e1e1e" />
<polygon points="186,584 198.3,573.3 201,577.5 205,577.5 210.8,572.5 215.8,575.8 220,579 226.7,580.8 235,590 237.5,605 233.3,618.3 220.8,625 185,622.5" fill="#171717" />
<polygon points="198.3,573.3 201,577.5 205,577.5 210.8,572.5 215.8,575.8 220,579 226.7,580.8 235,590 233.5,590.5 226,582.3 219.5,580.5 215,577.3 210.8,574.3 205.5,579 200.3,579 197.6,575" fill="#2c2c2c" />
<rect x="141" y="582.2" width="15" height="2.6" rx="1.2" fill="#e2e2e2" />
<rect x="138.5" y="589.2" width="17.5" height="2.6" rx="1.2" fill="#e2e2e2" />
<rect x="135" y="603.7" width="19" height="2.6" rx="1.2" fill="#e2e2e2" />
<rect x="137.5" y="611.2" width="12.5" height="2.6" rx="1.2" fill="#e2e2e2" />
<circle cx="171" cy="600" r="1.9" fill="#cfcfcf" />
<circle cx="181.5" cy="600" r="1.9" fill="#cfcfcf" />
<rect x="200" y="616.2" width="13.5" height="2.4" rx="1.1" fill="#e4e4e4" />
<rect x="199.5" y="588.5" width="16" height="1.3" fill="#262626" />
<rect x="199.5" y="595" width="16" height="1.3" fill="#282828" />
<rect x="199.5" y="602" width="16" height="1.3" fill="#2a2a2a" />
<rect x="199.5" y="608.5" width="16" height="1.3" fill="#303030" />
<circle cx="213.5" cy="576.5" r="1.2" fill="#777" />
<polygon points="505,578 515.3,576.6 543.2,580.2 542.3,595.5 522.5,604.6 504,606" fill="#171717" />
<polygon points="515.3,576.6 519,574 545,578 543.2,580.2" fill="#2a2a2a" />
<rect x="529.5" y="600" width="5" height="4.5" fill="#1a1a1a" />
<rect x="527" y="603" width="10" height="3.2" rx="1.2" fill="#1a1a1a" />
<polygon points="531.5,569 546,566.8 546,573.5 533,576.5" fill="#1a1a1a" />
<polygon points="533,567 545,565 546,567.5 533.5,569.5" fill="#2e2e2e" />
<ellipse cx="526" cy="569.5" rx="5.4" ry="10" fill="#141414" />
<ellipse cx="525" cy="569.5" rx="3.4" ry="7.8" fill="#232323" />
<ellipse cx="526.8" cy="569.5" rx="2.4" ry="5.6" fill="#101010" />
<rect x="503" y="612" width="37.5" height="5" fill="#161616" />
<ellipse cx="540.5" cy="614.5" rx="2.4" ry="5" fill="#181818" />
<ellipse cx="539.9" cy="614.5" rx="1.3" ry="3.6" fill="#2b2b2b" />
<rect x="503" y="616.5" width="31.2" height="5" fill="#161616" />
<ellipse cx="534.2" cy="619" rx="2.4" ry="5" fill="#181818" />
<ellipse cx="533.6" cy="619" rx="1.3" ry="3.6" fill="#2b2b2b" />
<rect x="503" y="620.1" width="25.3" height="5" fill="#161616" />
<ellipse cx="528.3" cy="622.6" rx="2.4" ry="5" fill="#181818" />
<ellipse cx="527.7" cy="622.6" rx="1.3" ry="3.6" fill="#2b2b2b" />
<ellipse cx="519.5" cy="527" rx="6.6" ry="11.2" fill="#151515" />
<ellipse cx="519.5" cy="548" rx="6.6" ry="11.2" fill="#151515" />
<ellipse cx="518.3" cy="527" rx="4.6" ry="9.4" fill="#202020" />
<ellipse cx="518.3" cy="548" rx="4.6" ry="9.4" fill="#202020" />
<rect x="514.6" y="527" width="10" height="21" fill="#181818" />
<circle cx="523.5" cy="526.5" r="1.1" fill="#8c8c8c" />
<circle cx="523.5" cy="549.5" r="1.1" fill="#8c8c8c" />
<circle cx="519" cy="538" r="0.9" fill="#777" />
<rect x="481" y="586.5" width="11" height="6.5" rx="1" fill="#1b1b1b" />
<polygon points="451.2,613.6 469.2,592.8 479.2,599.2 486.4,594.6 491.8,597.3 506,596 506,628 502.6,635.3 466.5,631.6 451.2,639.8" fill="#181818" />
<polygon points="469.2,592.8 479.2,599.2 486.4,594.6 491.8,597.3 491.2,599 486.4,596.4 479.2,601 468.2,594" fill="#2d2d2d" />
<polygon points="466.5,631.6 502.6,635.3 503,633.2 466.3,629.6 451.2,637.8 451.2,639.8" fill="#0e0e0e" />
<polygon points="499,555 517,563 504.4,626 494,628 487,622 487.3,611.8" fill="#1c1c1c" />
<polygon points="499,555 502.5,556.5 491,613 487.3,611.8" fill="#292929" />
<polygon points="499,555 517,563 516,567 498.2,559" fill="#0b0b0b" />
<polygon points="487,566 498,559.5 489,604 483,607" fill="#131313" />
<polygon points="453.9,592 468,592.8 452.8,613.6 452,645 436.7,645.2 438.5,611.8" fill="#131313" />
<polygon points="453.9,592 456,592.2 440.6,612.4 438.9,645 436.7,645.2 438.5,611.8" fill="#222" />
<polygon points="429.5,646 437,642.8 452,640.2 460.2,641.6 445.8,649.7" fill="#101010" />
<circle cx="471.9" cy="594.6" r="1.5" fill="#9a9a9a" />
<circle cx="460.2" cy="599.2" r="1.5" fill="#9a9a9a" />
<circle cx="471" cy="610.9" r="1.5" fill="#9a9a9a" />
<circle cx="480" cy="609" r="1.5" fill="#9a9a9a" />
<circle cx="456.6" cy="617.2" r="1.5" fill="#9a9a9a" />
<circle cx="451.7" cy="637" r="1.5" fill="#9a9a9a" />
<circle cx="508" cy="597.3" r="1.5" fill="#9a9a9a" />
<circle cx="519.8" cy="593.7" r="1.5" fill="#9a9a9a" />
<circle cx="523.4" cy="598.2" r="1.5" fill="#9a9a9a" />
<circle cx="490" cy="618.1" r="3.3" fill="#d4d4d4" />
<circle cx="489.5" cy="617.6" r="1.9" fill="#f0f0f0" />
</g>
<!-- labels -->
<g id="labels">
<polygon points="149.5,223.5 186.9,240.1 183.8,242.3 195.5,241.2 187.6,232.6 188.4,236.2" fill="#ff2218"/>
<polygon points="301.4,232.6 323.2,171.2 325.6,174.2 323.8,162.6 315.6,171.0 319.2,170.0" fill="#ff2218"/>
<polygon points="120.8,438.0 162.0,471.2 158.5,472.4 170.0,474.5 164.7,464.1 164.5,467.8" fill="#ff2218"/>
<polygon points="613.8,434.5 579.8,394.7 583.5,394.2 572.5,390.0 575.8,401.2 576.7,397.6" fill="#ff2218"/>
<polygon points="608.8,442.5 554.3,480.8 554.1,477.0 548.8,487.5 560.3,485.4 556.8,484.1" fill="#ff2218"/>
<polygon points="336.7,623.5 328.8,586.7 332.4,588.0 324.6,579.2 322.4,590.7 324.8,587.9" fill="#ff2218"/>
<text class="lbl" x="24.3" y="226">50*50*2.0mm</text>
<text class="lbl" x="297" y="250">80*40*2.0mm</text>
<text class="lbl" x="26.8" y="425.5">40*40*2.0mm</text>
<text class="lbl" x="621.6" y="448">50*2.0mm</text>
<text class="lbl" x="285.2" y="648.5">80*40*2.0mm</text>
</g>
</svg>
</body></html>
